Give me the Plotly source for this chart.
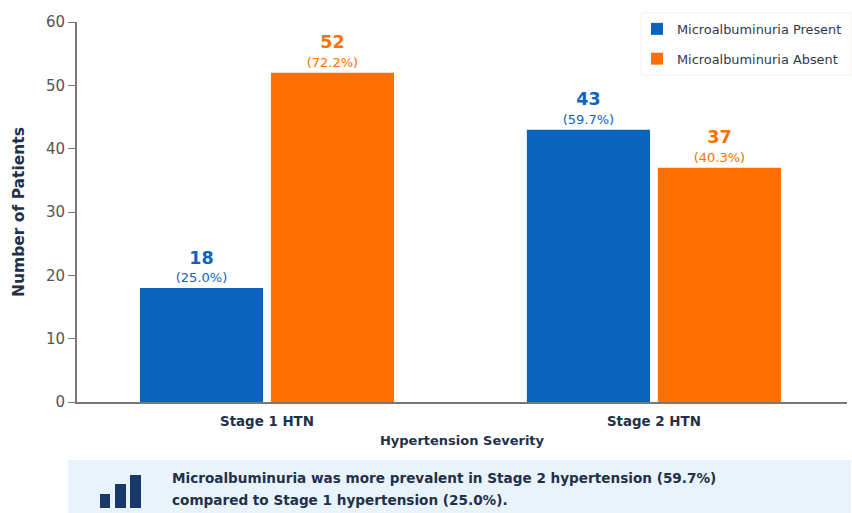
import plotly.graph_objects as go

categories = ["Stage 1 HTN", "Stage 2 HTN"]
present_counts = [18, 43]
absent_counts = [52, 37]
present_pct = ["25.0%", "59.7%"]
absent_pct = ["72.2%", "40.3%"]
y_ticks = [0, 10, 20, 30, 40, 50, 60]
callout_lines = [
    "Microalbuminuria was more prevalent in Stage 2 hypertension (59.7%)",
    "compared to Stage 1 hypertension (25.0%).",
]

BLUE = "#0a64bd"
ORANGE = "#ff7000"
FONT = "DejaVu Sans"
INK = "#22304a"
W, H = 852, 513
LEFT, RIGHT, TOP, BOTTOM = 77, 847, 22, 402


def px(x):
    # page x in pixels to paper fraction of the plot area
    return (x - LEFT) / (RIGHT - LEFT)


def py(y):
    # page y in pixels to paper fraction of the plot area
    return (BOTTOM - y) / (BOTTOM - TOP)


def bar_labels(counts, pcts, colour):
    return [
        f'<span style="font-size:17.5px;font-weight:bold;color:{colour}">{c}</span><br>'
        f'<span style="font-size:13px;color:{colour}">({p})</span>'
        for c, p in zip(counts, pcts)
    ]


fig = go.Figure()
for name, counts, pcts, colour in [
    ("Microalbuminuria Present", present_counts, present_pct, BLUE),
    ("Microalbuminuria Absent", absent_counts, absent_pct, ORANGE),
]:
    fig.add_bar(
        x=categories,
        y=counts,
        name=name,
        legendgroup=name,
        marker=dict(color=colour, line_width=0),
        text=bar_labels(counts, pcts, colour),
        textposition="outside",
        textfont=dict(family=FONT, size=14, color=colour),
        cliponaxis=False,
    )

# Legend backing box, callout panel and its small bar-chart icon, in page coordinates
shapes = [
    dict(type="rect", xref="paper", yref="paper", layer="below",
         x0=px(641), x1=px(852), y0=py(13), y1=py(75),
         fillcolor="white", line=dict(color="#f6eee8", width=1)),
    dict(type="rect", xref="paper", yref="paper", layer="below",
         x0=px(68), x1=px(851), y0=py(460), y1=py(513),
         fillcolor="#e9f3fb", line_width=0),
]
for x0, x1, top in [(100, 110, 494), (115, 126, 484), (130, 141, 475)]:
    shapes.append(dict(type="rect", xref="paper", yref="paper",
                       x0=px(x0), x1=px(x1), y0=py(top), y1=py(508),
                       fillcolor="#173a6b", line_width=0))

annotations = [
    dict(xref="paper", yref="paper", x=px(170), y=py(line_y),
         xanchor="left", yanchor="middle", align="left", showarrow=False,
         text=f"<b>{line}</b>", font=dict(family=FONT, size=13.6, color=INK))
    for line, line_y in zip(callout_lines, [478, 500])
]

fig.update_layout(
    width=W,
    height=H,
    autosize=False,
    paper_bgcolor="white",
    plot_bgcolor="white",
    font=dict(family=FONT, color=INK),
    margin=dict(l=LEFT, r=W - RIGHT, t=TOP, b=H - BOTTOM),
    barmode="group",
    bargap=0.323,
    bargroupgap=0.06,
    showlegend=True,
    legend=dict(
        x=px(637), y=py(14), xanchor="left", yanchor="top",
        xref="paper", yref="paper",
        bgcolor="rgba(0,0,0,0)", borderwidth=0,
        font=dict(family=FONT, size=12.9, color="#2c3a4f"),
        traceorder="grouped", tracegroupgap=10, itemclick=False,
    ),
    xaxis=dict(
        range=[-0.491, 1.499], showgrid=False, showline=True,
        linecolor="#777777", linewidth=2, ticks="", ticklabelstandoff=6,
        tickfont=dict(family=FONT, size=13.4, color=INK, weight="bold"),
        title=dict(text="<b>Hypertension Severity</b>", standoff=8,
                   font=dict(family=FONT, size=13, color=INK)),
    ),
    yaxis=dict(
        range=[0, 60], tickvals=y_ticks, showgrid=False,
        showline=True, linecolor="#777777", linewidth=2,
        ticks="outside", ticklen=7, tickcolor="#777777",
        tickfont=dict(family=FONT, size=15, color="#555555"),
        title=dict(text="<b>Number of Patients</b>", standoff=17,
                   font=dict(family=FONT, size=15.5, color=INK)),
    ),
    shapes=shapes,
    annotations=annotations,
)

fig.write_html("out.html")
